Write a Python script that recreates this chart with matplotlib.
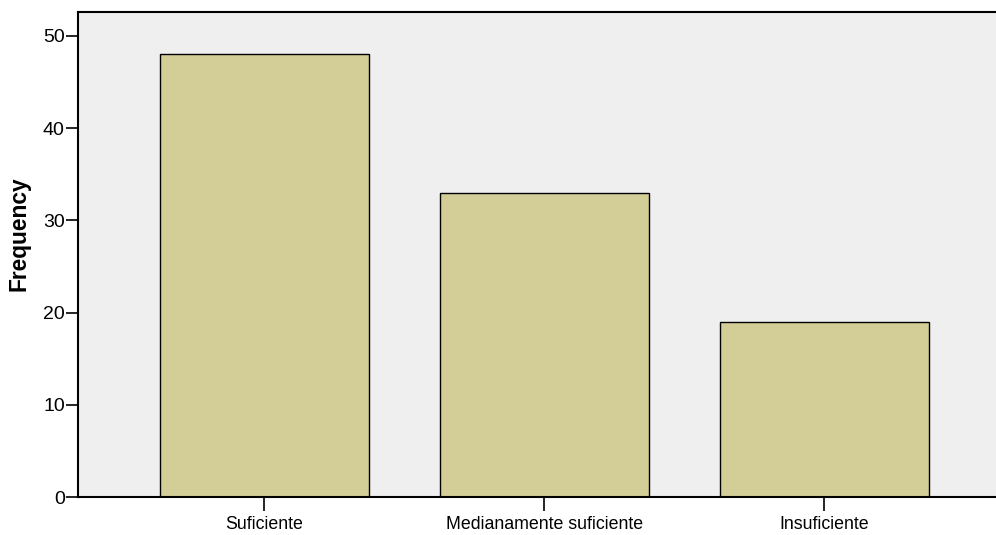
import matplotlib
matplotlib.use("Agg")
import matplotlib.pyplot as plt

categories = ["Suficiente", "Medianamente suficiente", "Insuficiente"]
frequencies = [48, 33, 19]
y_ticks = [0, 10, 20, 30, 40, 50]

plt.rcParams["font.family"] = ["Liberation Sans", "DejaVu Sans"]

W, H = 996, 535
fig = plt.figure(figsize=(W / 100, H / 100), dpi=100)
ax = fig.add_axes([78 / W, (H - 497) / H, 918 / W, 485 / H])
ax.set_facecolor("#efefef")

x = list(range(len(categories)))
ax.bar(x, frequencies, width=0.746, color="#d3ce97", edgecolor="black",
       linewidth=1.0, zorder=2)

ax.set_xlim(-0.666, 2.6125)
ax.set_ylim(0, 52.6)
ax.set_xticks(x)
ax.set_xticklabels(categories, fontsize=12.8)
ax.set_yticks(y_ticks)
ax.set_yticklabels([str(v) for v in y_ticks], fontsize=14)
ax.tick_params(axis="x", length=10, width=1.2, pad=4)
ax.tick_params(axis="y", length=8.5, width=1.2, pad=1)

for side in ("left", "bottom", "top"):
    ax.spines[side].set_linewidth(1.5)
    ax.spines[side].set_color("black")
ax.spines["right"].set_visible(False)

ax.set_ylabel("Frequency", fontsize=16.4, fontweight="bold")
ax.yaxis.set_label_coords(-0.052, 0.542)

fig.savefig("out.png", dpi=100, facecolor="white")
